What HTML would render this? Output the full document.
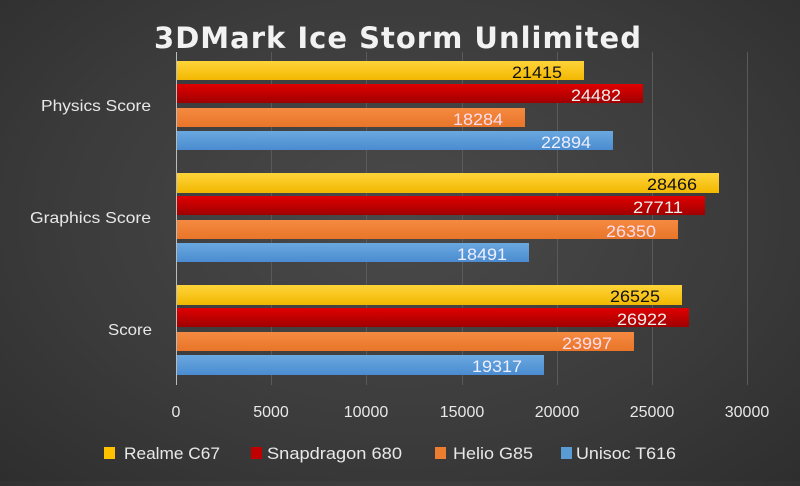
<!DOCTYPE html><html><head><style>
body{margin:0;width:800px;height:481px;overflow:hidden;background:radial-gradient(ellipse at 50% 45%,#4a4a4a 0%,#3b3b3b 60%,#2e2e2e 100%);font-family:"Liberation Sans",sans-serif}
</style></head><body>
<svg width="800" height="481" xmlns="http://www.w3.org/2000/svg">
<defs>
<linearGradient id="y" x1="0" y1="0" x2="0" y2="1"><stop offset="0" stop-color="#ffd43a"/><stop offset="1" stop-color="#f2b800"/></linearGradient>
<linearGradient id="r" x1="0" y1="0" x2="0" y2="1"><stop offset="0" stop-color="#e00000"/><stop offset="1" stop-color="#a00000"/></linearGradient>
<linearGradient id="o" x1="0" y1="0" x2="0" y2="1"><stop offset="0" stop-color="#f58a40"/><stop offset="1" stop-color="#e8752a"/></linearGradient>
<linearGradient id="b" x1="0" y1="0" x2="0" y2="1"><stop offset="0" stop-color="#6aa8e0"/><stop offset="1" stop-color="#4a8cd0"/></linearGradient>
</defs>
<g stroke="#5a5a5a" stroke-width="1">
<line x1="271.5" y1="52" x2="271.5" y2="385"/><line x1="366.5" y1="52" x2="366.5" y2="385"/><line x1="462.5" y1="52" x2="462.5" y2="385"/><line x1="557.5" y1="52" x2="557.5" y2="385"/><line x1="652.5" y1="52" x2="652.5" y2="385"/><line x1="747.5" y1="52" x2="747.5" y2="385"/>
</g>
<line x1="176.5" y1="52" x2="176.5" y2="385" stroke="#bbb"/>
<text x="398" y="48" text-anchor="middle" font-size="29" font-weight="bold" fill="#f2f2f2" font-family="DejaVu Sans,sans-serif" letter-spacing="1">3DMark Ice Storm Unlimited</text>
<g font-size="17" font-family="Liberation Sans Narrow,Liberation Sans,sans-serif" lengthAdjust="spacingAndGlyphs">
<rect x="177" y="61" width="407" height="19" fill="url(#y)"/><text x="512" y="78" textLength="50" lengthAdjust="spacingAndGlyphs" fill="#111">21415</text>
<rect x="177" y="84" width="466" height="19" fill="url(#r)"/><text x="571" y="101" textLength="50" lengthAdjust="spacingAndGlyphs" fill="#eee">24482</text>
<rect x="177" y="108" width="348" height="19" fill="url(#o)"/><text x="453" y="125" textLength="50" lengthAdjust="spacingAndGlyphs" fill="#fde">18284</text>
<rect x="177" y="131" width="436" height="19" fill="url(#b)"/><text x="541" y="148" textLength="50" lengthAdjust="spacingAndGlyphs" fill="#eef">22894</text>
<rect x="177" y="173" width="542" height="20" fill="url(#y)"/><text x="647" y="190" textLength="50" lengthAdjust="spacingAndGlyphs" fill="#111">28466</text>
<rect x="177" y="196" width="528" height="19" fill="url(#r)"/><text x="633" y="213" textLength="50" lengthAdjust="spacingAndGlyphs" fill="#eee">27711</text>
<rect x="177" y="220" width="501" height="19" fill="url(#o)"/><text x="606" y="237" textLength="50" lengthAdjust="spacingAndGlyphs" fill="#fde">26350</text>
<rect x="177" y="243" width="352" height="19" fill="url(#b)"/><text x="457" y="260" textLength="50" lengthAdjust="spacingAndGlyphs" fill="#eef">18491</text>
<rect x="177" y="285" width="505" height="20" fill="url(#y)"/><text x="610" y="302" textLength="50" lengthAdjust="spacingAndGlyphs" fill="#111">26525</text>
<rect x="177" y="308" width="512" height="19" fill="url(#r)"/><text x="617" y="325" textLength="50" lengthAdjust="spacingAndGlyphs" fill="#eee">26922</text>
<rect x="177" y="332" width="457" height="19" fill="url(#o)"/><text x="562" y="349" textLength="50" lengthAdjust="spacingAndGlyphs" fill="#fde">23997</text>
<rect x="177" y="355" width="367" height="20" fill="url(#b)"/><text x="472" y="372" textLength="50" lengthAdjust="spacingAndGlyphs" fill="#eef">19317</text>
</g>
<g font-size="16" fill="#e8e8e8">
<text x="41" y="111" textLength="110" lengthAdjust="spacingAndGlyphs">Physics Score</text><text x="30" y="223" textLength="121" lengthAdjust="spacingAndGlyphs">Graphics Score</text><text x="108" y="335" textLength="44" lengthAdjust="spacingAndGlyphs">Score</text>
</g>
<g font-size="16" fill="#e8e8e8" text-anchor="middle">
<text x="176" y="417">0</text><text x="271" y="417">5000</text><text x="366" y="417">10000</text><text x="462" y="417">15000</text><text x="557" y="417">20000</text><text x="652" y="417">25000</text><text x="747" y="417">30000</text>
</g>
<g font-size="17" fill="#e8e8e8">
<rect x="104" y="447" width="11" height="12" fill="#ffc000"/><text x="124" y="459" textLength="96" lengthAdjust="spacingAndGlyphs">Realme C67</text>
<rect x="251" y="447" width="11" height="12" fill="#c00000"/><text x="267" y="459" textLength="135" lengthAdjust="spacingAndGlyphs">Snapdragon 680</text>
<rect x="435" y="447" width="11" height="12" fill="#ed7d31"/><text x="453" y="459" textLength="80" lengthAdjust="spacingAndGlyphs">Helio G85</text>
<rect x="561" y="447" width="11" height="12" fill="#5b9bd5"/><text x="576" y="459" textLength="100" lengthAdjust="spacingAndGlyphs">Unisoc T616</text>
</g>
</svg>
</body></html>
